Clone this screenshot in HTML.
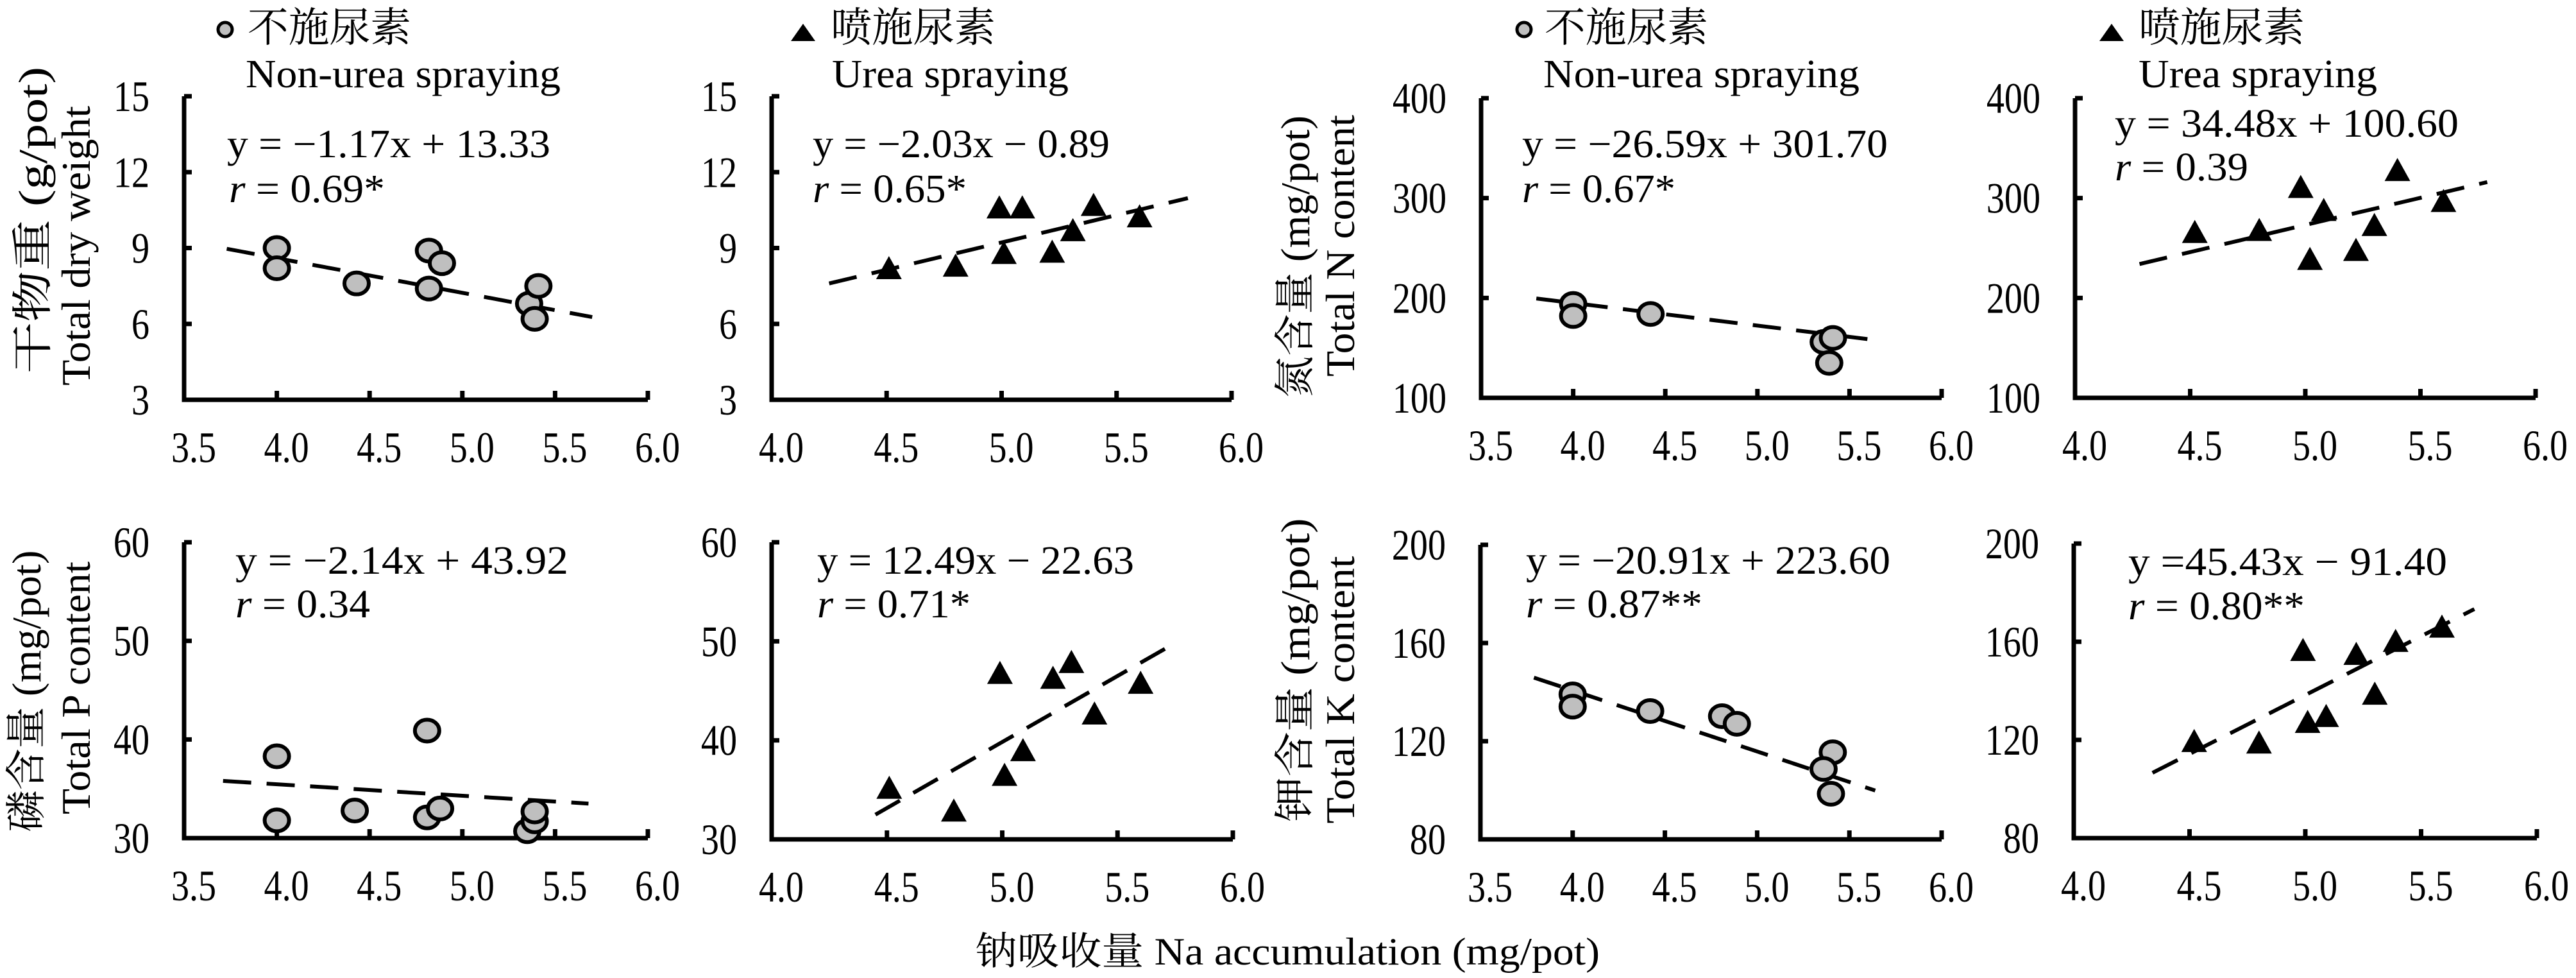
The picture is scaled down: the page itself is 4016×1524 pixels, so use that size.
<!DOCTYPE html>
<html><head><meta charset="utf-8"><style>
html,body{margin:0;padding:0;background:#fff;}
svg{display:block;}
text{font-family:"Liberation Serif","Noto Serif CJK SC",serif;fill:#000;}
</style></head><body>
<svg id="chart" xmlns="http://www.w3.org/2000/svg" width="4016" height="1524" viewBox="0 0 4016 1524"></svg>
<script>
// ---- data ----
const p1X=[4.0,4.0,4.43,4.82,4.89,4.82,5.36,5.41,5.39];
const p1Y=[9.0,8.2,7.6,8.9,8.4,7.4,6.8,7.5,6.2];
const p1Line=[3.73,8.97,5.7,6.27];
const p2X=[4.51,4.80,4.99,5.09,5.01,5.22,5.31,5.40,5.60];
const p2Y=[8.2,8.3,10.6,10.6,8.8,8.85,9.7,10.7,10.25];
const p2Line=[4.25,7.6,5.81,10.97];
const p3X=[4.0,4.0,4.42,5.36,5.41,5.39];
const p3Y=[194,182,184,156,160,135];
const p3Line=[3.80,199.5,5.68,157];
const p4X=[4.52,4.80,4.98,5.08,5.02,5.22,5.30,5.40,5.60];
const p4Y=[266,268,311,288,239,248,273,328,297];
const p4Line=[4.28,234,5.79,316];
const p5X=[4.0,4.0,4.42,4.81,4.81,4.88,5.35,5.39,5.39];
const p5Y=[38.3,31.8,32.8,40.9,32.1,33.0,30.7,31.7,32.7];
const p5Line=[3.71,35.8,5.68,33.5];
const p6X=[4.51,4.79,4.99,5.01,5.09,5.22,5.30,5.40,5.60];
const p6Y=[35.2,32.9,46.8,36.5,39.0,46.3,47.9,42.7,45.8];
const p6Line=[4.45,32.5,5.71,49.3];
const p7X=[4.0,4.0,4.42,4.81,4.89,5.41,5.36,5.40];
const p7Y=[139.1,134.1,132.3,130.2,127.1,115.5,108.7,98.6];
const p7Line=[3.79,145.9,5.64,99.9];
const p8X=[4.52,4.80,4.99,5.01,5.09,5.22,5.30,5.39,5.59];
const p8Y=[119.5,118.9,156.6,127.3,129.7,155,138.8,160.3,166.1];
const p8Line=[4.34,106.6,5.73,173.3];
const xTicksA=["3.5","4.0","4.5","5.0","5.5","6.0"];
const xTicksB=["4.0","4.5","5.0","5.5","6.0"];
const yTicksDW=["3","6","9","12","15"];
const yTicksN=["100","200","300","400"];
const yTicksP=["30","40","50","60"];
const yTicksK=["80","120","160","200"];
const eqText=["y = −1.17x + 13.33","y = −2.03x − 0.89","y = −26.59x + 301.70","y = 34.48x + 100.60","y =  −2.14x + 43.92","y = 12.49x − 22.63","y = −20.91x + 223.60","y =45.43x −  91.40"];
const rText=[" = 0.69*"," = 0.65*"," = 0.67*"," = 0.39"," = 0.34"," = 0.71*"," = 0.87**"," = 0.80**"];

// ---- layout ----
const panels=[
 {xs:p1X,ys:p1Y,ln:p1Line,m:'c',xt:xTicksA,yt:yTicksDW,x0:287,x1:1010,xmin:3.5,xmax:6,yb:623,yt0:150,eq:[354,245,504],r:[357,315,243]},
 {xs:p2X,ys:p2Y,ln:p2Line,m:'t',xt:xTicksB,yt:yTicksDW,x0:1203,x1:1920,xmin:4,xmax:6,yb:623,yt0:150,eq:[1267,245,463],r:[1267,315,240]},
 {xs:p3X,ys:p3Y,ln:p3Line,m:'c',xt:xTicksA,yt:yTicksN,x0:2309,x1:3027,xmin:3.5,xmax:6,yb:620,yt0:153,eq:[2373,245,570],r:[2373,315,239]},
 {xs:p4X,ys:p4Y,ln:p4Line,m:'t',xt:xTicksB,yt:yTicksN,x0:3235,x1:3953,xmin:4,xmax:6,yb:620,yt0:153,eq:[3297,213,536],r:[3297,281,208]},
 {xs:p5X,ys:p5Y,ln:p5Line,m:'c',xt:xTicksA,yt:yTicksP,x0:287,x1:1010,xmin:3.5,xmax:6,yb:1306,yt0:845,eq:[367,894,519],r:[367,962,210]},
 {xs:p6X,ys:p6Y,ln:p6Line,m:'t',xt:xTicksB,yt:yTicksP,x0:1203,x1:1922,xmin:4,xmax:6,yb:1308,yt0:845,eq:[1274,894,494],r:[1274,962,239]},
 {xs:p7X,ys:p7Y,ln:p7Line,m:'c',xt:xTicksA,yt:yTicksK,x0:2308,x1:3027,xmin:3.5,xmax:6,yb:1308,yt0:849,eq:[2379,894,568],r:[2379,962,275]},
 {xs:p8X,ys:p8Y,ln:p8Line,m:'t',xt:xTicksB,yt:yTicksK,x0:3233,x1:3955,xmin:4,xmax:6,yb:1306,yt0:847,eq:[3318,896,497],r:[3318,965,275]}
];
const NS="http://www.w3.org/2000/svg";
const svg=document.getElementById('chart');
function mk(tag,attrs,parent){const e=document.createElementNS(NS,tag);for(const k in attrs)e.setAttribute(k,attrs[k]);(parent||svg).appendChild(e);return e;}
function tlen(s,f){let w=0;for(const c of s){w+=(c==='.')?0.25:0.5;}return w*f*0.85;}

panels.forEach((p,i)=>{
 const g=mk('g',{});
 
 
 const ymin=parseFloat(p.yt[0]),ymax=parseFloat(p.yt[p.yt.length-1]);
 const sx=v=>p.x0+(v-p.xmin)/(p.xmax-p.xmin)*(p.x1-p.x0);
 const sy=v=>p.yb-(v-ymin)/(ymax-ymin)*(p.yb-p.yt0);
 const ax=mk('path',{d:`M${p.x0},${p.yt0} L${p.x0},${p.yb} L${p.x1},${p.yb}`,fill:'none',stroke:'#000','stroke-width':7},g);
 
 
 p.yt.forEach(t=>{
  const y=sy(parseFloat(t));
  mk('line',{x1:p.x0,y1:y,x2:p.x0+12,y2:y,stroke:'#000','stroke-width':7},g);
  const tx=mk('text',{x:p.x0-54,y:y+23,'font-size':68,'text-anchor':'end',textLength:tlen(t,66),lengthAdjust:'spacingAndGlyphs'},g);
  tx.textContent=t;
  
  
 });
 p.xt.forEach(t=>{
  const x=sx(parseFloat(t));
  mk('line',{x1:x,y1:p.yb,x2:x,y2:p.yb-14,stroke:'#000','stroke-width':7},g);
  const tx=mk('text',{x:x+15,y:p.yb+97,'font-size':68,'text-anchor':'middle',textLength:tlen(t,66),lengthAdjust:'spacingAndGlyphs'},g);
  tx.textContent=t;
  
  
 });
 const fl=mk('line',{x1:sx(p.ln[0]),y1:sy(p.ln[1]),x2:sx(p.ln[2]),y2:sy(p.ln[3]),stroke:'#000','stroke-width':6,'stroke-dasharray':'44 24'},g);
 
 
 p.xs.forEach((xv,j)=>{
  const cx=sx(xv),cy=sy(p.ys[j]);let e;
  if(p.m==='c'){e=mk('ellipse',{cx:cx,cy:cy,rx:19,ry:17,fill:'#bfbfbf',stroke:'#000','stroke-width':6},g);}
  else{e=mk('polygon',{points:`${cx-20},${cy+17} ${cx+20},${cy+17} ${cx},${cy-19}`,fill:'#000'},g);}
  
  
 });
 const eq=mk('text',{x:p.eq[0],y:p.eq[1],'font-size':62,textLength:p.eq[2],lengthAdjust:'spacingAndGlyphs'},g);
 eq.textContent=eqText[i];
 
 
 const rt=mk('text',{x:p.r[0],y:p.r[1],'font-size':62,textLength:p.r[2],lengthAdjust:'spacingAndGlyphs'},g);
 const it=mk('tspan',{'font-style':'italic'},rt);it.textContent='r';
 const rest=mk('tspan',{},rt);rest.textContent=rText[i];
 
 
});

function txt(s,x,y,f,len,name){const t=mk('text',{x:x,y:y,'font-size':f,textLength:len,lengthAdjust:'spacingAndGlyphs'});t.textContent=s;
 
 
 return t;}
[[351,2376],[1252,3292]].forEach((arr,k)=>{arr.forEach(x=>{let e;
 if(k===0){e=mk('ellipse',{cx:x,cy:46,rx:11,ry:11,fill:'#bfbfbf',stroke:'#000','stroke-width':5});}
 else{e=mk('polygon',{points:`${x-19},${64} ${x+19},${64} ${x},${37}`,fill:'#000'});}
 
 
});});
txt('不施尿素',386,65,64,255,'legend-non-urea-cn');
txt('Non-urea spraying',383,136,62,491,'legend-non-urea-en');
txt('喷施尿素',1295,65,64,257,'legend-urea-cn');
txt('Urea spraying',1297,136,62,369,'legend-urea-en');
txt('不施尿素',2408,65,64,255,'legend-non-urea-cn');
txt('Non-urea spraying',2406,136,62,493,'legend-non-urea-en');
txt('喷施尿素',3334,65,64,259,'legend-urea-cn');
txt('Urea spraying',3334,136,62,372,'legend-urea-en');
txt('钠吸收量 Na accumulation (mg/pot)',1520,1503,60,974,'x-axis-title');

const yl=[
 ['干物重 (g/pot)',51,343,478],['Total dry weight',118,383,436],
 ['氮含量 (mg/pot)',2019,400,440],['Total N content',2089,383,408],
 ['磷含量 (mg/pot)',41,1077,439],['Total P content',118,1072,394],
 ['钾含量 (mg/pot)',2019,1044,473],['Total K content',2089,1075,417]
];
yl.forEach(a=>{
 const t=mk('text',{x:0,y:0,'font-size':64,'text-anchor':'middle',textLength:a[3],lengthAdjust:'spacingAndGlyphs',transform:`translate(${a[1]+22},${a[2]}) rotate(-90)`});
 t.textContent=a[0];
 
 
});
</script>
</body></html>
